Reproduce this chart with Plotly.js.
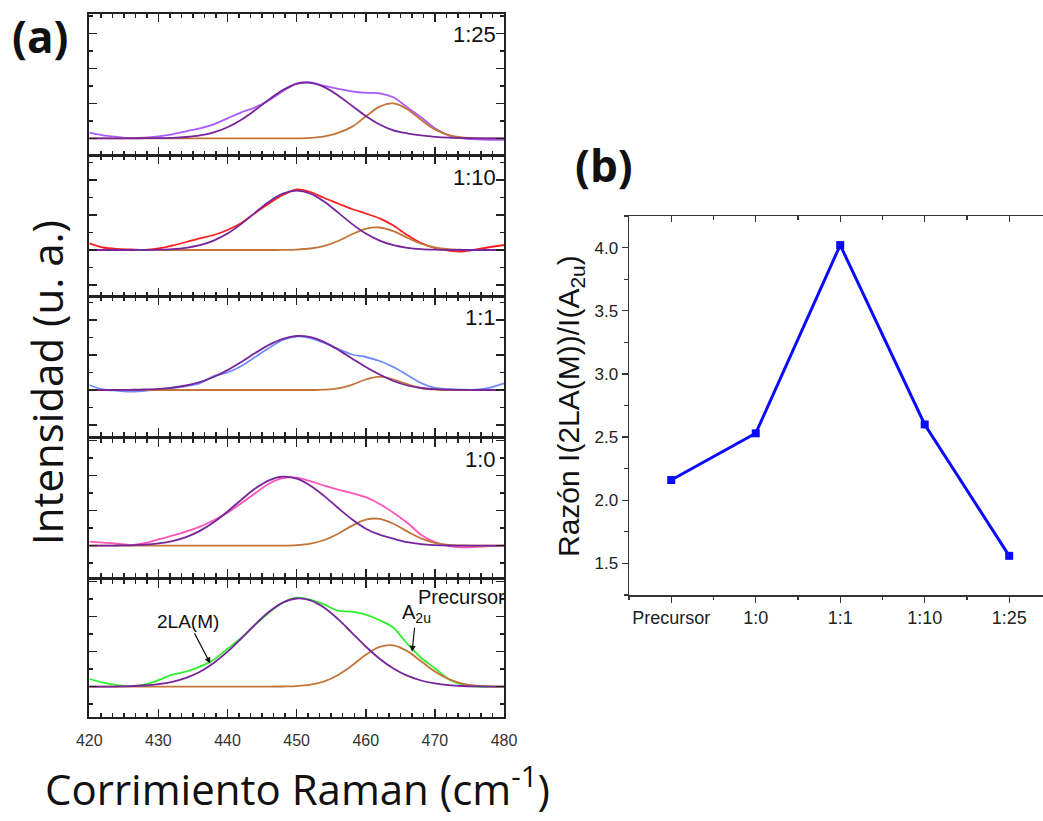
<!DOCTYPE html>
<html>
<head>
<meta charset="utf-8">
<script src="https://cdn.plot.ly/plotly-3.0.1.min.js"></script>
<style>html,body{margin:0;padding:0;background:#fff;}#chart{width:1043px;height:821px;}</style>
</head>
<body>
<div id="chart"></div>
<script>
// ---------------- DATA ----------------
const ramanShift = [420,422,424,426,428,430,432,434,436,438,440,442,444,446,448,450,452,454,456,458,460,462,464,466,468,470,472,474,476,478,480];

const sampleLabels = ['1:25', '1:10', '1:1', '1:0', 'Precursor'];

// 1:25
const spectrum25 = [5.7,3,1.5,0.3,0.7,2,4,7,10,14,20,26,31,38,47,55,56,52.5,49.5,47,45.5,45,41,31,21,10,3,0,-1,-1.5,-1.5];
const fit2LA25   = [0,0,0,0,0.1,0.2,0.5,1.3,2.9,6,11.1,18.6,28.2,38.8,48.3,54.4,55.5,51.2,42.8,32.5,22.3,13.8,8,5,3,1.5,0.6,0.2,0,0,0];
const fitA2u25   = [0,0,0,0,0,0,0,0,0,0,0,0,0,0,0,0,0.5,2,5.5,11.4,21.8,31.7,34.9,29.1,18.5,8.9,3.2,0.9,0.2,0,0];

// 1:10
const spectrum10 = [6.7,2.5,1,0.5,0,1.5,4.5,8,11.7,15,20,27,37,46.5,55,60.5,58,52,46.5,41,36.5,31.7,24.5,15,7,2,-0.5,-1.5,0.5,3,5];
const fit2LA10   = [0,0,0,0,0.1,0.35,0.9,2.2,4.8,9.4,16.4,26.1,37.4,48.3,56.4,59.3,56.4,48.3,37.4,26.1,16.4,9.4,4.8,2.2,0.9,0.35,0.1,0,0,0,0];
const fitA2u10   = [0,0,0,0,0,0,0,0,0,0,0,0,0,0,0.1,0.4,1.5,4.1,9,15.7,21.2,22.5,18.8,12.3,6.3,2.5,0.8,0.2,0,0,0];

// 1:1
const spectrum1  = [5,0.5,-0.7,-1.7,-0.8,0.5,1.8,4,6.7,14,17.5,24,33,42,50,53.5,52,47,41,35.5,33,29,23,15,7,2,0.8,0.3,0.3,2.3,6.7];
const fit2LA1    = [0,0,0,0.2,0.5,1.1,2.4,4.5,7.9,13,19.9,28.1,36.9,45.1,51.2,54,52.8,47.9,40.4,31.6,23,15.5,9,4.5,2,0.8,0.3,0.1,0,0,0];
const fitA2u1    = [0,0,0,0,0,0,0,0,0,0,0,0,0,0,0,0,0,0.3,1.6,5.2,10.5,13.3,10.5,5.8,2,0.5,0,0,0,0,0];

// 1:0
const spectrum0  = [4,3,2,0.7,2.5,6.3,10,14,19,25.5,33,42.5,52.5,62,67.5,68,64.5,60,56,52.5,48.5,41.7,33,23,11,3.5,-0.5,-1.7,-1.2,-0.5,0];
const fit2LA0    = [0,0,0.2,0.4,1,2.3,4.6,8.6,14.8,23.4,34.2,46,57.1,65.4,69,67,60,49.6,37.7,26.4,17,11,7,3.5,1.5,0.6,0.2,0,0,0,0];
const fitA2u0    = [0,0,0,0,0,0,0,0,0,0,0,0,0,0,0.1,0.6,2.1,5.7,12,19.8,26,26.9,22,14.3,7.3,2.9,0.9,0.2,0,0,0];

// Precursor
const spectrumP  = [7.7,4,1.5,0.5,2,6.5,12,15,20,27,38,49,62,74,84,89,87,82,76,75,72,66.5,59,43,29,18.5,7.5,2,0,0,0];
const fit2LAP    = [0,0,0.2,0.5,1.2,2.5,4.9,8.8,15,23.8,35,48.3,62.2,74.9,84.1,88.2,86.4,79,67.5,53.9,40.2,28,18.2,11,6.2,3.3,1.6,0.7,0.3,0.1,0];
const fitA2uP    = [0,0,0,0,0,0,0,0,0,0,0,0,0,0,0.2,0.6,2,5.3,11.7,21.1,31.9,39.8,41.4,35.6,25.5,15.1,7.5,3.1,1,0.3,0];

const spectra   = [spectrum25, spectrum10, spectrum1, spectrum0, spectrumP];
const fits2LA   = [fit2LA25, fit2LA10, fit2LA1, fit2LA0, fit2LAP];
const fitsA2u   = [fitA2u25, fitA2u10, fitA2u1, fitA2u0, fitA2uP];

const ratioCategories = ['Precursor', '1:0', '1:1', '1:10', '1:25'];
const ratioValues     = [2.16, 2.53, 4.02, 2.60, 1.56];

// ---------------- LAYOUT / STYLE ----------------
const W = 1043, H = 821;
const px = x => x / W;
const py = y => 1 - y / H;

const panelBox = [            // pixel geometry of the stacked panels
  {top: 14,  bottom: 155, base: 138.3},
  {top: 156, bottom: 296, base: 250},
  {top: 297, bottom: 436, base: 390},
  {top: 439, bottom: 577, base: 545.7},
  {top: 580, bottom: 717, base: 686.7}
];
const dataColors = ['#a95cff', '#ff1f1f', '#6f8cff', '#ff55b8', '#2ef02e'];
const color2LA = '#76259c';
const colorA2u = '#c2743a';
const axisColor = '#222';
const AX_L = 89.3, AX_R = 504;
const arial = 'Liberation Sans, Arial, sans-serif';
const open = 'Open Sans, Noto Sans, sans-serif';

const traces = [];
const layout = {
  width: W, height: H, autosize: false,
  margin: {l: 0, r: 0, t: 0, b: 0},
  paper_bgcolor: '#fff', plot_bgcolor: 'rgba(0,0,0,0)',
  showlegend: false,
  annotations: []
};

for (let i = 0; i < 5; i++) {
  const n = i + 1;
  const xa = n === 1 ? 'x' : 'x' + n;
  const ya = n === 1 ? 'y' : 'y' + n;
  const common = {xaxis: xa, yaxis: ya, mode: 'lines', hoverinfo: 'skip'};
  traces.push(Object.assign({x: ramanShift, y: spectra[i], line: {color: dataColors[i], width: 1.8, shape: 'spline', smoothing: 0.8}}, common));
  traces.push(Object.assign({x: ramanShift, y: fitsA2u[i], line: {color: colorA2u, width: 1.8, shape: 'spline', smoothing: 1}}, common));
  traces.push(Object.assign({x: ramanShift, y: fits2LA[i], line: {color: color2LA, width: 1.8, shape: 'spline', smoothing: 1}}, common));

  const b = panelBox[i];
  layout[n === 1 ? 'xaxis' : 'xaxis' + n] = {
    domain: [px(AX_L), px(AX_R)], anchor: ya, range: [420, 480],
    matches: n === 1 ? undefined : 'x',
    showline: true, linewidth: 2, linecolor: axisColor, mirror: 'allticks',
    ticks: 'inside', ticklen: 8, tickwidth: 1.5, tickcolor: axisColor,
    tick0: 420, dtick: 10,
    minor: {ticks: 'inside', tick0: 420, dtick: 10 / 6, ticklen: 4, tickwidth: 1.5, tickcolor: axisColor},
    showticklabels: n === 5, ticklabelstandoff: 8,
    tickfont: {family: arial, size: 16, color: '#333'},
    showgrid: false, zeroline: false, fixedrange: true
  };
  layout[n === 1 ? 'yaxis' : 'yaxis' + n] = {
    domain: [py(b.bottom), py(b.top)], anchor: xa,
    range: [-(b.bottom - b.base), b.base - b.top],
    showline: true, linewidth: 2, linecolor: axisColor, mirror: 'allticks',
    ticks: 'inside', ticklen: 8, tickwidth: 1.5, tickcolor: axisColor,
    tick0: 0, dtick: 35,
    minor: {ticks: 'inside', tick0: 0, dtick: 17.5, ticklen: 4, tickwidth: 1.5, tickcolor: axisColor},
    showticklabels: false, showgrid: false, zeroline: false, fixedrange: true
  };
}

// ---- panel (b)
const catIdx = ratioCategories.map((c, i) => i);
traces.push({
  x: catIdx, y: ratioValues, xaxis: 'x6', yaxis: 'y6',
  mode: 'lines+markers', hoverinfo: 'skip', cliponaxis: false,
  line: {color: '#0a0aff', width: 3},
  marker: {symbol: 'square', size: 8, color: '#0a0aff'}
});
const bRange = [-0.5, 4.4];
layout.xaxis6 = {
  domain: [px(629), 1], anchor: 'y6', range: bRange,
  tickmode: 'array', tickvals: catIdx, ticktext: ratioCategories,
  showline: true, linewidth: 1.5, linecolor: '#333',
  ticks: 'outside', ticklen: 6, tickwidth: 1.3, tickcolor: '#333',
  minor: {ticks: 'outside', tickmode: 'linear', tick0: 0, dtick: 0.5, ticklen: 3.5, tickwidth: 1.3, tickcolor: '#333'},
  tickfont: {family: arial, size: 18, color: '#222'},
  showgrid: false, zeroline: false, fixedrange: true
};
layout.xaxis7 = {
  overlaying: 'x6', side: 'top', anchor: 'y6', range: bRange,
  tickmode: 'array', tickvals: catIdx, showticklabels: false,
  showline: true, linewidth: 1.5, linecolor: '#333',
  ticks: 'inside', ticklen: 6, tickwidth: 1.3, tickcolor: '#333',
  minor: {ticks: 'inside', tickmode: 'linear', tick0: 0, dtick: 0.5, ticklen: 3.5, tickwidth: 1.3, tickcolor: '#333'},
  showgrid: false, zeroline: false, fixedrange: true
};
layout.yaxis6 = {
  domain: [py(595), py(216)], anchor: 'x6', range: [1.25, 4.25],
  tick0: 1.5, dtick: 0.5, tickformat: '.1f',
  showline: true, linewidth: 1.5, linecolor: '#333',
  ticks: 'outside', ticklen: 6, tickwidth: 1.3, tickcolor: '#333',
  minor: {ticks: 'outside', dtick: 0.25, ticklen: 3.5, tickwidth: 1.3, tickcolor: '#333'},
  tickfont: {family: arial, size: 17, color: '#222'},
  showgrid: false, zeroline: false, fixedrange: true
};
// dummy trace so xaxis7 is drawn
traces.push({x: catIdx, y: ratioValues, xaxis: 'x7', yaxis: 'y6', mode: 'none', hoverinfo: 'skip'});

// ---- text
const ann = layout.annotations;
const paperText = (text, x, y, font, extra) => ann.push(Object.assign({
  text, xref: 'paper', yref: 'paper', x: px(x), y: py(y),
  xanchor: 'center', yanchor: 'middle', showarrow: false, font
}, extra || {}));

paperText('(a)', 40, 36, {family: open, size: 44, color: '#111', weight: 'bold'});
paperText('(b)', 604, 165, {family: open, size: 44, color: '#111', weight: 'bold'});
paperText('Intensidad (u. a.)', 46, 383, {family: open, size: 42, color: '#111'}, {textangle: -90});
paperText('Corrimiento Raman (cm<sup>-1</sup>)', 297, 786, {family: open, size: 42, color: '#111'});
paperText('Razón I(2LA(M))/I(A<sub>2u</sub>)', 570, 406, {family: arial, size: 30, color: '#111'}, {textangle: -90});

const labelY = [34, 177, 317, 460];
for (let i = 0; i < 4; i++) {
  paperText(sampleLabels[i], 498, labelY[i], {family: arial, size: 22, color: '#111'}, {xanchor: 'right'});
}
paperText(sampleLabels[4], 507, 597, {family: arial, size: 20, color: '#111'}, {xanchor: 'right'});

ann.push({text: '2LA(M)', xref: 'x5', yref: 'y5', x: 437.5, y: 23.3, ax: -22, ay: -42,
  showarrow: true, arrowhead: 2, arrowsize: 1, arrowwidth: 1.2, arrowcolor: '#111',
  font: {family: arial, size: 19, color: '#111'}});
ann.push({text: 'A<sub>2u</sub>', xref: 'x5', yref: 'y5', x: 466.7, y: 35, ax: 4, ay: -38,
  showarrow: true, arrowhead: 2, arrowsize: 1, arrowwidth: 1.2, arrowcolor: '#111',
  font: {family: arial, size: 20, color: '#111'}});

Plotly.newPlot('chart', traces, layout, {displayModeBar: false, staticPlot: true});
</script>
</body>
</html>
